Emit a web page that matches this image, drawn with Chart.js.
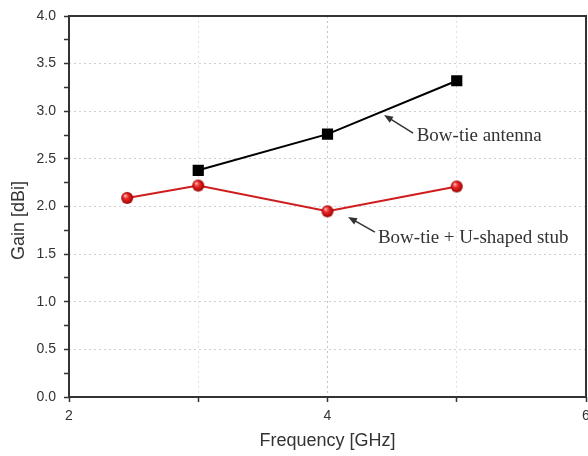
<!DOCTYPE html>
<html>
<head>
<meta charset="utf-8">
<script src="https://cdn.jsdelivr.net/npm/chart.js@4/dist/chart.umd.min.js"></script>
<style>
  html, body { margin: 0; padding: 0; background: #fff; }
  #wrap { width: 588px; height: 456px; position: relative; }
</style>
</head>
<body>
<div id="wrap"><canvas id="gainChart"></canvas></div>
<script>
// frequencies (GHz) and gain (dBi)
const bowtieFreq = [3, 4, 5];
const bowtieGain = [2.38, 2.76, 3.32];
const stubFreq = [2.45, 3, 4, 5];
const stubGain = [2.09, 2.22, 1.95, 2.21];

const xTicks = [2, 4, 6];
const yTicks = [0.0, 0.5, 1.0, 1.5, 2.0, 2.5, 3.0, 3.5, 4.0];

const yTitle = 'Gain [dBi]';

// text labels with arrows, in data units
const notes = [
    { text: 'Bow-tie antenna', tx: 4.69, ty: 2.69, from: [4.662, 2.77], to: [4.437, 2.96] },
    { text: 'Bow-tie + U-shaped stub', tx: 4.39, ty: 1.617, from: [4.367, 1.73], to: [4.159, 1.89] }
];

// little red ball for the second series
function makeBall(r) {
    const c = document.createElement('canvas');
    c.width = r * 2 + 2;
    c.height = r * 2 + 2;
    const g = c.getContext('2d');
    const cx = r + 1, cy = r + 1;
    const grad = g.createRadialGradient(cx - r * 0.35, cy - r * 0.4, r * 0.1, cx, cy, r);
    grad.addColorStop(0, '#ffb0b0');
    grad.addColorStop(0.35, '#f02a2a');
    grad.addColorStop(1, '#9a0000');
    g.fillStyle = grad;
    g.beginPath();
    g.arc(cx, cy, r, 0, Math.PI * 2);
    g.fill();
    return c;
}

const toPts = (xs, ys) => xs.map((x, i) => ({ x: x, y: ys[i] }));

const isHalf = v => Math.abs(v * 2 - Math.round(v * 2)) < 1e-9;

const framePlugin = {
    id: 'frame',
    // the plot runs right up to the canvas edge, the "6" gets cut like in the original
    afterLayout(chart) {
        const x = chart.scales.x;
        const right = chart.width - 2;
        chart.chartArea.right = right;
        chart.chartArea.width = right - chart.chartArea.left;
        x.right = right;
        x.width = right - x.left;
        x.configure();
    },
    afterDraw(chart) {
        const { ctx, chartArea: a, scales } = chart;
        ctx.save();
        ctx.strokeStyle = '#333';
        ctx.lineWidth = 2;
        ctx.strokeRect(a.left, a.top, a.right - a.left, a.bottom - a.top);

        // y title sits a bit below the middle in the original
        ctx.save();
        ctx.translate(19, (a.top + a.bottom) / 2 + 14);
        ctx.rotate(-Math.PI / 2);
        ctx.fillStyle = '#333';
        ctx.font = '18px "Liberation Sans", Arial, sans-serif';
        ctx.textAlign = 'center';
        ctx.textBaseline = 'middle';
        ctx.fillText(yTitle, 0, 0);
        ctx.restore();

        // annotations
        ctx.fillStyle = '#333';
        ctx.strokeStyle = '#333';
        ctx.lineWidth = 1.5;
        ctx.font = '19px "Liberation Serif", "Times New Roman", serif';
        ctx.textBaseline = 'alphabetic';
        notes.forEach(n => {
            ctx.fillText(n.text, scales.x.getPixelForValue(n.tx), scales.y.getPixelForValue(n.ty));
            const x1 = scales.x.getPixelForValue(n.from[0]);
            const y1 = scales.y.getPixelForValue(n.from[1]);
            const x2 = scales.x.getPixelForValue(n.to[0]);
            const y2 = scales.y.getPixelForValue(n.to[1]);
            const ang = Math.atan2(y2 - y1, x2 - x1);
            ctx.beginPath();
            ctx.moveTo(x1, y1);
            ctx.lineTo(x2 - Math.cos(ang) * 6, y2 - Math.sin(ang) * 6);
            ctx.stroke();
            ctx.beginPath();
            ctx.moveTo(x2, y2);
            ctx.lineTo(x2 - Math.cos(ang) * 9 + Math.sin(ang) * 3.5, y2 - Math.sin(ang) * 9 - Math.cos(ang) * 3.5);
            ctx.lineTo(x2 - Math.cos(ang) * 9 - Math.sin(ang) * 3.5, y2 - Math.sin(ang) * 9 + Math.cos(ang) * 3.5);
            ctx.closePath();
            ctx.fill();
        });
        ctx.restore();
    }
};

document.addEventListener('DOMContentLoaded', function() {
    const canvas = document.getElementById('gainChart');

    new Chart(canvas, {
        type: 'scatter',
        data: {
            datasets: [{
                label: 'Bow-tie antenna',
                data: toPts(bowtieFreq, bowtieGain),
                showLine: true,
                borderColor: '#000',
                backgroundColor: '#000',
                borderWidth: 2,
                pointStyle: 'rect',
                pointRadius: 6.5,
                pointHoverRadius: 6.5,
                tension: 0
            }, {
                label: 'Bow-tie + U-shaped stub',
                data: toPts(stubFreq, stubGain),
                showLine: true,
                borderColor: '#d01c1c',
                backgroundColor: '#d01c1c',
                borderWidth: 2,
                pointStyle: makeBall(6),
                pointRadius: 6,
                tension: 0
            }]
        },
        options: {
            responsive: true,
            maintainAspectRatio: false,
            animation: false,
            layout: { padding: { top: 16, right: 2, left: 0, bottom: 0 } },
            plugins: {
                legend: { display: false },
                tooltip: { enabled: false }
            },
            scales: {
                x: {
                    type: 'linear',
                    min: 2,
                    max: 6,
                    ticks: {
                        stepSize: 1,
                        color: '#333',
                        padding: 6,
                        maxRotation: 0,
                        font: { family: '"Liberation Sans", Arial, sans-serif', size: 14 },
                        callback: v => xTicks.includes(v) ? String(v) : ''
                    },
                    grid: {
                        color: c => (c.tick && c.tick.value === 4) ? '#c4c4c4' : '#e2e2e2',
                        lineWidth: 1,
                        tickColor: '#333',
                        tickLength: 5,
                        tickWidth: 1.5
                    },
                    border: { display: false, dash: [2, 3] },
                    title: {
                        display: true,
                        text: 'Frequency [GHz]',
                        color: '#333',
                        font: { family: '"Liberation Sans", Arial, sans-serif', size: 18 },
                        padding: { top: 4 }
                    },
                    afterFit: s => { s.height = 59; s.paddingLeft = 0; s.paddingRight = 0; }
                },
                y: {
                    min: 0,
                    max: 4,
                    ticks: {
                        stepSize: 0.25,
                        autoSkip: false,
                        color: '#333',
                        padding: 8,
                        font: { family: '"Liberation Sans", Arial, sans-serif', size: 14 },
                        callback: v => (isHalf(v) && yTicks.includes(v)) ? v.toFixed(1) : ''
                    },
                    grid: {
                        color: c => (c.tick && isHalf(c.tick.value)) ? '#cfcfcf' : 'rgba(0,0,0,0)',
                        lineWidth: 1,
                        tickColor: '#333',
                        tickLength: 5,
                        tickWidth: 1.5
                    },
                    border: { display: false, dash: [2, 3] },
                    title: { display: false },
                    afterFit: s => { s.width = 69; s.paddingTop = 0; s.paddingBottom = 0; }
                }
            }
        },
        plugins: [framePlugin]
    });
});
</script>
</body>
</html>
